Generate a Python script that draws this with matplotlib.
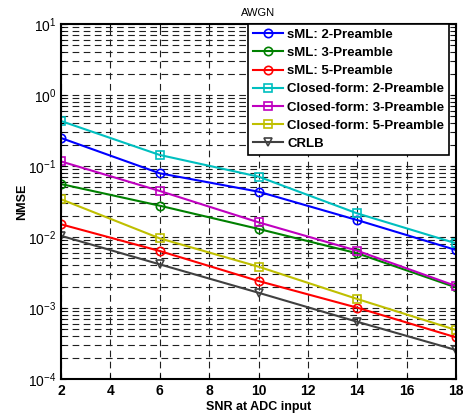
import numpy as np
import matplotlib
matplotlib.use('Agg')
import matplotlib.pyplot as plt
from matplotlib.ticker import LogLocator

plt.rcParams['font.family'] = ['Liberation Sans', 'DejaVu Sans']
plt.rcParams['mathtext.fontset'] = 'custom'
plt.rcParams['mathtext.rm'] = 'Liberation Sans:bold'
plt.rcParams['mathtext.bf'] = 'Liberation Sans:bold'
plt.rcParams['mathtext.default'] = 'bf'

# data
snr = [2, 6, 10, 14, 18]
sml_2 = [0.248, 0.0789, 0.0435, 0.0173, 0.00656]
sml_3 = [0.0557, 0.0276, 0.0130, 0.00589, 0.00195]
sml_5 = [0.0151, 0.00635, 0.0024, 0.00101, 0.000386]
cf_2 = [0.43, 0.143, 0.0708, 0.0215, 0.00815]
cf_3 = [0.116, 0.0445, 0.0161, 0.0064, 0.00204]
cf_5 = [0.034, 0.00957, 0.00382, 0.00134, 0.00049]
crlb = [0.0104, 0.00412, 0.00164, 0.00064, 0.000256]

labels = ['sML: 2-Preamble', 'sML: 3-Preamble', 'sML: 5-Preamble',
          'Closed-form: 2-Preamble', 'Closed-form: 3-Preamble',
          'Closed-form: 5-Preamble', 'CRLB']
series = [sml_2, sml_3, sml_5, cf_2, cf_3, cf_5, crlb]
colors = ['#0000ff', '#008000', '#ff0000', '#00bfbf', '#bf00bf', '#bfbf00', '#404040']
markers = ['o', 'o', 'o', 's', 's', 's', 'v']

fig = plt.figure(figsize=(4.64, 4.15), dpi=100)
ax = fig.add_axes([0.1315, 0.0867, 0.8513, 0.8555])

for y, lab, c, m in zip(series, labels, colors, markers):
    ax.semilogy(snr, y, color=c, marker=m, markersize=6, markerfacecolor='none',
                markeredgewidth=1.2, linewidth=1.5, label=lab)

ax.set_xlim(2, 18)
ax.set_ylim(1e-4, 1e1)
ax.set_xticks(range(2, 19, 2))
ax.yaxis.set_major_locator(LogLocator(base=10, numticks=10))
ax.yaxis.set_minor_locator(LogLocator(base=10, subs=np.arange(2, 10), numticks=20))
ax.grid(True, which='major', linestyle=(0, (6, 4)), color='#202020', linewidth=0.8)
ax.grid(True, which='minor', axis='y', linestyle=(0, (6, 4)), color='#202020', linewidth=0.8)
ax.tick_params(which='both', direction='in', top=True, right=True)
ax.tick_params(labelsize=10)
for lab in ax.get_xticklabels():
    lab.set_fontweight('bold')
for s in ax.spines.values():
    s.set_linewidth(1.5)

ax.set_xlabel('SNR at ADC input', fontsize=9, fontweight='bold', labelpad=2)
ax.set_ylabel('NMSE', fontsize=9, fontweight='bold', labelpad=0)
ax.set_title('AWGN', fontsize=8, pad=6)

leg = ax.legend(loc='upper right', bbox_to_anchor=(0.982, 1.0),
                prop={'weight': 'bold', 'size': 9.5}, fancybox=False,
                framealpha=1, edgecolor='black', handlelength=2.3, borderpad=0.35,
                labelspacing=0.45, handletextpad=0.3, borderaxespad=0.0)
leg.get_frame().set_linewidth(1.2)

fig.savefig('out.png', dpi=100)
